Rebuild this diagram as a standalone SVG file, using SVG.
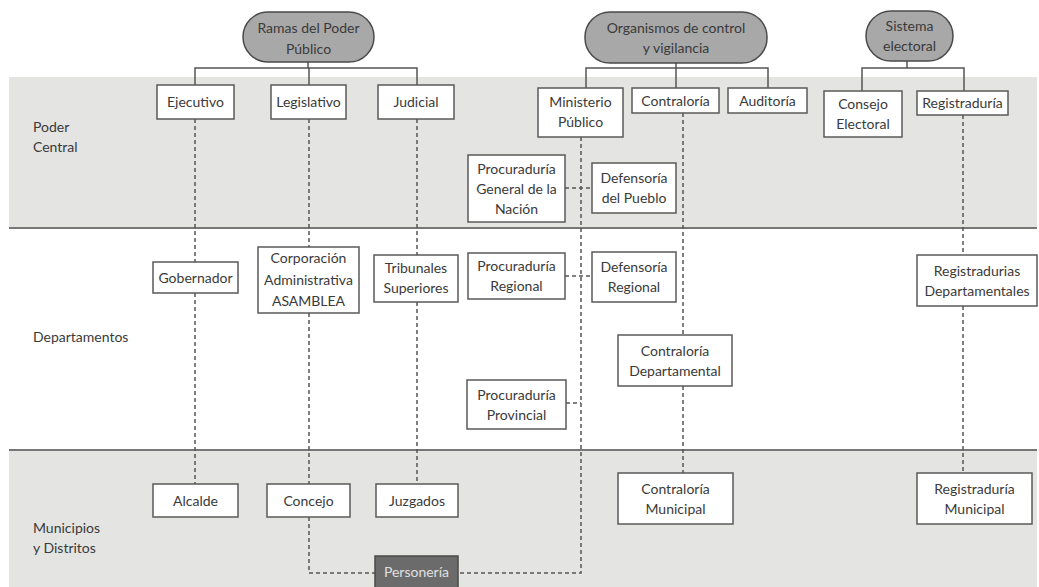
<svg xmlns="http://www.w3.org/2000/svg" width="1039" height="587" viewBox="0 0 1039 587">
<style>
text{font-family:Lato,"Open Sans","Liberation Sans",sans-serif;font-size:14px;fill:#3a3a3a;text-anchor:middle}
.lbl{text-anchor:start}
.box{fill:#fff;stroke:#5a5a5a;stroke-width:1.5}
.pill{fill:#a8a8a8;stroke:#4a4a4a;stroke-width:1.5}
.sep{stroke:#777;stroke-width:2.2}
.solid{fill:none;stroke:#555;stroke-width:1.5}
.dash{fill:none;stroke:#555;stroke-width:1.5;stroke-dasharray:4 3}
.dark{fill:#6b6b6b;stroke:#4a4a4a;stroke-width:1.5}
</style>
<rect x="0" y="0" width="1039" height="587" fill="#fff"/>
<rect x="9" y="77" width="1028" height="151" fill="#e4e4e2"/>
<rect x="9" y="450" width="1028" height="137" fill="#e4e4e2"/>
<line class="sep" x1="9" y1="228" x2="1037" y2="228"/>
<line class="sep" x1="9" y1="450" x2="1037" y2="450"/>
<text class="lbl" x="33" y="132">Poder</text>
<text class="lbl" x="33" y="152">Central</text>
<text class="lbl" x="33" y="342">Departamentos</text>
<text class="lbl" x="33" y="533">Municipios</text>
<text class="lbl" x="33" y="553">y Distritos</text>
<g id="connectors">
<path class="solid" d="M308 62V68M195 85V68H417V85M309 68V85"/>
<path class="solid" d="M676 63V88M586 88V68H768V88"/>
<path class="solid" d="M907 61V68M862 91V68H964V91"/>
<path class="dash" d="M195 119V262M195 293V484"/>
<path class="dash" d="M309 119V247M309 313V484M309 517V573H375"/>
<path class="dash" d="M417 119V255M417 302V484"/>
<path class="dash" d="M581 137V573H458"/>
<path class="dash" d="M565 188H592M565 276H592M566 403H581"/>
<path class="dash" d="M683 113V335M683 386V473"/>
<path class="dash" d="M963 115V255M963 306V473"/>
</g>
<g id="ramas"><rect class="pill" x="243" y="12" width="131" height="50" rx="25"/><text x="308.5" y="33">Ramas del Poder</text><text x="308.5" y="54">Público</text></g>
<g id="organismos"><rect class="pill" x="585" y="12" width="182" height="51" rx="25"/><text x="676" y="33">Organismos de control</text><text x="676" y="53">y vigilancia</text></g>
<g id="sistema"><rect class="pill" x="866" y="11" width="87" height="50" rx="25"/><text x="909.5" y="31">Sistema</text><text x="909.5" y="51">electoral</text></g>
<g id="ejecutivo"><rect class="box" x="157" y="85" width="77" height="34"/><text x="195.5" y="107">Ejecutivo</text></g>
<g id="legislativo"><rect class="box" x="271" y="85" width="75" height="34"/><text x="308.5" y="107">Legislativo</text></g>
<g id="judicial"><rect class="box" x="378" y="85" width="76" height="34"/><text x="416" y="107">Judicial</text></g>
<g id="ministerio"><rect class="box" x="538" y="88" width="85" height="49"/><text x="580.5" y="107">Ministerio</text><text x="580.5" y="127">Público</text></g>
<g id="contraloria"><rect class="box" x="632" y="88" width="87" height="25"/><text x="675.5" y="105.5">Contraloría</text></g>
<g id="auditoria"><rect class="box" x="728" y="88" width="79" height="25"/><text x="767.5" y="105.5">Auditoría</text></g>
<g id="consejo"><rect class="box" x="824" y="91" width="78" height="46"/><text x="863" y="109">Consejo</text><text x="863" y="129">Electoral</text></g>
<g id="registraduria"><rect class="box" x="917" y="91" width="91" height="24"/><text x="962.5" y="108">Registraduría</text></g>
<g id="procuraduria-general"><rect class="box" x="468" y="155" width="97" height="67"/><text x="516.5" y="174">Procuraduría</text><text x="516.5" y="194">General de la</text><text x="516.5" y="214">Nación</text></g>
<g id="defensoria-pueblo"><rect class="box" x="592" y="163" width="84" height="50"/><text x="634" y="183">Defensoría</text><text x="634" y="203">del Pueblo</text></g>
<g id="gobernador"><rect class="box" x="153" y="262" width="85" height="31"/><text x="195.5" y="282.5">Gobernador</text></g>
<g id="corporacion"><rect class="box" x="258" y="247" width="101" height="66"/><text x="308.5" y="263">Corporación</text><text x="308.5" y="285">Administrativa</text><text x="308.5" y="306">ASAMBLEA</text></g>
<g id="tribunales"><rect class="box" x="374" y="255" width="84" height="47"/><text x="416" y="273">Tribunales</text><text x="416" y="293">Superiores</text></g>
<g id="procuraduria-regional"><rect class="box" x="468" y="253" width="97" height="46"/><text x="516.5" y="271">Procuraduría</text><text x="516.5" y="291">Regional</text></g>
<g id="defensoria-regional"><rect class="box" x="592" y="252" width="84" height="50"/><text x="634" y="272">Defensoría</text><text x="634" y="292">Regional</text></g>
<g id="registradurias-dep"><rect class="box" x="917" y="255" width="120" height="51"/><text x="977" y="275.5">Registradurias</text><text x="977" y="295.5">Departamentales</text></g>
<g id="contraloria-dep"><rect class="box" x="618" y="335" width="114" height="51"/><text x="675" y="355.5">Contraloría</text><text x="675" y="375.5">Departamental</text></g>
<g id="procuraduria-provincial"><rect class="box" x="467" y="380" width="99" height="49"/><text x="516.5" y="399.5">Procuraduría</text><text x="516.5" y="419.5">Provincial</text></g>
<g id="alcalde"><rect class="box" x="153" y="484" width="85" height="33"/><text x="195.5" y="505.5">Alcalde</text></g>
<g id="concejo"><rect class="box" x="267" y="484" width="83" height="33"/><text x="308.5" y="505.5">Concejo</text></g>
<g id="juzgados"><rect class="box" x="376" y="484" width="82" height="33"/><text x="417" y="505.5">Juzgados</text></g>
<g id="contraloria-mun"><rect class="box" x="618" y="473" width="115" height="51"/><text x="675.5" y="493.5">Contraloría</text><text x="675.5" y="513.5">Municipal</text></g>
<g id="registraduria-mun"><rect class="box" x="917" y="473" width="115" height="51"/><text x="974.5" y="493.5">Registraduría</text><text x="974.5" y="513.5">Municipal</text></g>
<g id="personeria"><rect class="dark" x="375" y="556" width="83" height="36"/><text x="416.5" y="577" style="fill:#e0e0e0">Personería</text></g>
</svg>
